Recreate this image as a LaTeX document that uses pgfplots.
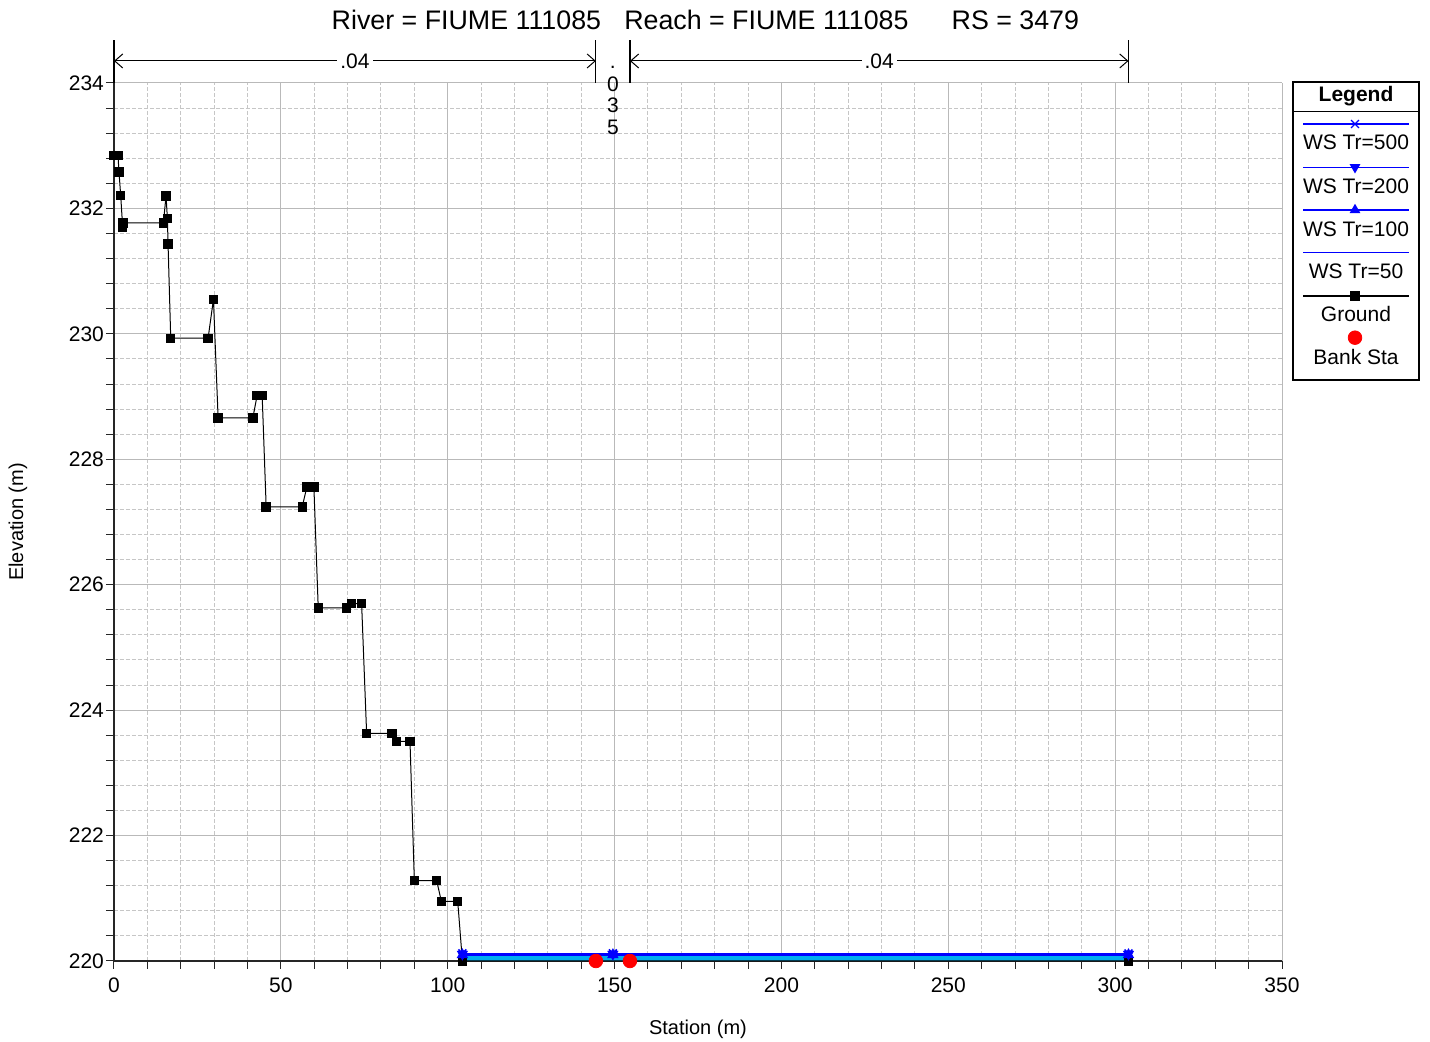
\documentclass[border=0pt]{standalone}
\usepackage{fontspec}
\setmainfont{Liberation Sans}
\usepackage{pgfplots}
\pgfplotsset{compat=1.18}
\usetikzlibrary{arrows.meta}

\begin{document}
\begin{tikzpicture}
\begin{axis}[
 scale only axis, width=584pt, height=439pt,
 xmin=0,xmax=350,ymin=220,ymax=234,
 xtick distance=50, ytick distance=2,
 minor x tick num=4, minor y tick num=4,
 axis x line*=bottom, axis y line*=left,
 axis line style={-, black!85, line width=0.6pt},
 tick align=outside, major tick length=4pt, minor tick length=4pt,
 tick style={black!85, line width=0.5pt},
 grid=both,
 major grid style={gray!55, line width=0.5pt, solid},
 minor grid style={gray!45, line width=0.5pt, dash pattern=on 2pt off 1pt},
 ticklabel style={font=\fontsize{10.5}{12}\selectfont},
 yticklabel style={xshift=2.5pt},
 xticklabel style={yshift=-1pt},
 /pgf/number format/assume math mode=true,
 /pgf/number format/1000 sep={},
 xlabel={Station (m)}, ylabel={Elevation (m)},
 label style={font=\fontsize{10.5}{12}\selectfont},
 every axis x label/.style={at={(axis description cs:0.5,-0.0775)}, anchor=center},
 every axis y label/.style={at={(axis description cs:-0.0822,0.5)}, anchor=center, rotate=90},
 clip=false,
]
% water fill
\addplot[fill=cyan, draw=none, forget plot] coordinates {(104.4,220.09) (304,220.09)} \closedcycle;
% ground
\addplot[black, line width=0.5pt, mark=square*, mark size=2.1pt] coordinates {
(0,232.84) (1.2,232.84) (1.5,232.58) (2.0,232.21) (2.6,231.70) (2.7,231.77)
(14.8,231.77) (15.6,232.2) (16.0,231.84) (16.2,231.43) (17.0,229.93) (28.2,229.93)
(29.8,230.55) (31.2,228.66) (41.6,228.66) (42.9,229.02) (44.4,229.02) (45.6,227.24)
(56.4,227.24) (57.8,227.56) (59.9,227.56) (61.2,225.63) (69.7,225.63) (71.2,225.70)
(74.2,225.70) (75.7,223.63) (83.3,223.63) (84.6,223.50) (88.7,223.50) (90.0,221.28)
(96.7,221.28) (98.1,220.95) (103.0,220.95) (104.4,220.0) (144.4,220.0) (154.6,220.0) (304,220.0)};
% water surfaces
\addplot[blue, line width=0.8pt] coordinates {(104.4,220.09) (149.5,220.09) (304,220.09)};
\addplot[blue, line width=0.8pt, mark=triangle*, mark size=2.5pt] coordinates {(104.4,220.10) (149.5,220.10) (304,220.10)};
\addplot[blue, line width=0.8pt, mark=triangle*, mark size=2.5pt, mark options={rotate=180}] coordinates {(104.4,220.11) (149.5,220.11) (304,220.11)};
\addplot[blue, line width=0.8pt, mark=x, mark size=2.8pt] coordinates {(104.4,220.12) (149.5,220.12) (304,220.12)};
% bank stations
\addplot[only marks, red, mark=*, mark size=3.4pt] coordinates {(144.4,220) (154.6,220)};

% Manning's n annotations
\draw[black, line width=0.6pt] (axis cs:0,234) -- (axis cs:0,234.686);
\draw[black, line width=0.6pt] (axis cs:144.4,234) -- (axis cs:144.4,234.686);
\draw[black, line width=0.6pt] (axis cs:154.6,234) -- (axis cs:154.6,234.686);
\draw[black, line width=0.6pt] (axis cs:304,234) -- (axis cs:304,234.686);
\draw[{Straight Barb[length=4pt,width=7pt]}-{Straight Barb[length=4pt,width=7pt]}, line width=0.5pt]
  (axis cs:0,234.351) -- (axis cs:144.4,234.351) node[midway, fill=white, inner sep=1.5pt, font=\fontsize{10.5}{12}\selectfont] {.04};
\draw[{Straight Barb[length=4pt,width=7pt]}-{Straight Barb[length=4pt,width=7pt]}, line width=0.5pt]
  (axis cs:154.6,234.351) -- (axis cs:304,234.351) node[midway, fill=white, inner sep=1.5pt, font=\fontsize{10.5}{12}\selectfont] {.04};
\node[font=\fontsize{10.5}{12}\selectfont, inner sep=0pt] at (axis cs:149.5,234.255) {.};
\node[font=\fontsize{10.5}{12}\selectfont, inner sep=0pt] at (axis cs:149.5,233.984) {0};
\node[font=\fontsize{10.5}{12}\selectfont, inner sep=0pt] at (axis cs:149.5,233.649) {3};
\node[font=\fontsize{10.5}{12}\selectfont, inner sep=0pt] at (axis cs:149.5,233.298) {5};

% title
\node[font=\fontsize{13.4}{15}\selectfont] at (axis cs:105.6,235.005) {River = FIUME 111085};
\node[font=\fontsize{13.4}{15}\selectfont] at (axis cs:195.5,235.005) {Reach = FIUME 111085};
\node[font=\fontsize{13.4}{15}\selectfont] at (axis cs:270.1,235.005) {RS = 3479};
\end{axis}

% legend drawn in its own axis (pixel coordinates)
\begin{axis}[
 at={(589.5pt,290.5pt)}, anchor=south west,
 scale only axis, width=63pt, height=149pt,
 xmin=1293, xmax=1419, ymin=82, ymax=380, y dir=reverse,
 hide axis, clip=false,
]
\draw[black, line width=0.6pt, fill=white] (axis cs:1293,82) rectangle (axis cs:1419,380);
\draw[black, line width=0.6pt] (axis cs:1293,111.5) -- (axis cs:1419,111.5);
\node[font=\fontsize{10.5}{12}\selectfont\bfseries] at (axis cs:1356,96.5) {Legend};
\addplot[blue, line width=0.6pt, mark=x, mark size=2.8pt, mark indices={2}] coordinates {(1303,124) (1355,124) (1409,124)};
\node[font=\fontsize{10.5}{12}\selectfont] at (axis cs:1356,142.5) {WS Tr=500};
\addplot[blue, line width=0.6pt, mark=triangle*, mark size=2.5pt, mark options={rotate=180}, mark indices={2}] coordinates {(1303,167.3) (1355,167.3) (1409,167.3)};
\node[font=\fontsize{10.5}{12}\selectfont] at (axis cs:1356,186) {WS Tr=200};
\addplot[blue, line width=0.6pt, mark=triangle*, mark size=2.5pt, mark indices={2}] coordinates {(1303,210) (1355,210) (1409,210)};
\node[font=\fontsize{10.5}{12}\selectfont] at (axis cs:1356,228.8) {WS Tr=100};
\addplot[blue, line width=0.6pt] coordinates {(1303,252.7) (1409,252.7)};
\node[font=\fontsize{10.5}{12}\selectfont] at (axis cs:1356,271.7) {WS Tr=50};
\addplot[black, line width=0.6pt, mark=square*, mark size=2.1pt, mark indices={2}] coordinates {(1303,296) (1355,296) (1409,296)};
\node[font=\fontsize{10.5}{12}\selectfont] at (axis cs:1356,313.8) {Ground};
\addplot[only marks, red, mark=*, mark size=3.4pt] coordinates {(1355,337.7)};
\node[font=\fontsize{10.5}{12}\selectfont] at (axis cs:1356,357.2) {Bank Sta};
\end{axis}

\pgfresetboundingbox
\path[use as bounding box] (-57pt,-40.5pt) rectangle (658pt,480.5pt);
\end{tikzpicture}
\end{document}
